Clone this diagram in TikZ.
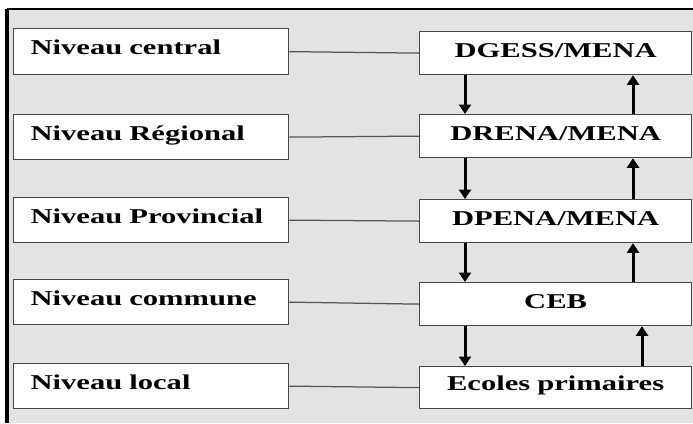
\documentclass[tikz,border=0pt]{standalone}
\usepackage{fontspec}
\usetikzlibrary{arrows.meta}
\newfontfamily\boxfont[FakeStretch=1.45]{Liberation Serif}
\definecolor{bggray}{RGB}{227,227,227}
\definecolor{boxline}{RGB}{70,70,70}
\definecolor{linkgray}{RGB}{85,85,85}
\begin{document}
\begin{tikzpicture}[x=0.2mm,y=-0.2mm,
  levelbox/.style={draw=boxline,line width=0.25mm,fill=white,anchor=north west,
    inner xsep=3.4mm,inner ysep=0pt,text width=48.2mm,align=left,
    text height=5.1mm,text depth=3.9mm,font=\boxfont\bfseries\fontsize{12}{14}\selectfont},
  unitbox/.style={draw=boxline,line width=0.25mm,fill=white,anchor=north west,
    inner xsep=0pt,inner ysep=0pt,text width=54.4mm,align=center,
    text height=5.2mm,text depth=3.4mm,font=\boxfont\bfseries\fontsize{12}{14}\selectfont},
  link/.style={draw=linkgray,line width=0.25mm},
  flow/.style={draw=black,line width=0.6mm,-{Triangle[length=1.9mm,width=2.4mm]}}]
\useasboundingbox (0,0) rectangle (693,423);
% frame
\fill[bggray] (7,9) rectangle (693,423);
\draw[line width=0.3mm] (7,9) -- (693,9);
\draw[line width=0.6mm] (7,9) -- (7,423);
% coordinates
\coordinate (xDown) at (465,0);
\coordinate (xUp)   at (633,0);
\coordinate (xUpB)  at (642,0);
% levels
\node[levelbox,text depth=4.1mm] (central) at (13, 28) {Niveau central};
\node[levelbox] (regional)   at (13,114) {Niveau Régional};
\node[levelbox] (provincial) at (13,197) {Niveau Provincial};
\node[levelbox] (commune)    at (13,279) {Niveau commune};
\node[levelbox] (local)      at (13,363) {Niveau local};
% structures
\node[unitbox] (dgess)  at (419, 31) {DGESS/MENA};
\node[unitbox] (drena)  at (419,114) {DRENA/MENA};
\node[unitbox] (dpena)  at (419,199) {DPENA/MENA};
\node[unitbox] (ceb)    at (419,282) {CEB};
\node[unitbox,text height=4.7mm,text depth=3.7mm] (ecoles) at (419,366) {Ecoles primaires};
% links
\draw[link] (central.east)    -- (dgess.west);
\draw[link] (regional.east)   -- (drena.west);
\draw[link] (provincial.east) -- (dpena.west);
\draw[link] (commune.east)    -- (ceb.west);
\draw[link] (local.east)      -- (ecoles.west);
% flows down
\draw[flow] (dgess.south -| xDown) -- (drena.north -| xDown);
\draw[flow] (drena.south -| xDown) -- (dpena.north -| xDown);
\draw[flow] (dpena.south -| xDown) -- (ceb.north -| xDown);
\draw[flow] (ceb.south -| xDown)   -- (ecoles.north -| xDown);
% flows up
\draw[flow] (drena.north -| xUp)   -- (dgess.south -| xUp);
\draw[flow] (dpena.north -| xUp)   -- (drena.south -| xUp);
\draw[flow] (ceb.north -| xUp)     -- (dpena.south -| xUp);
\draw[flow] (ecoles.north -| xUpB) -- (ceb.south -| xUpB);
\end{tikzpicture}
\end{document}
